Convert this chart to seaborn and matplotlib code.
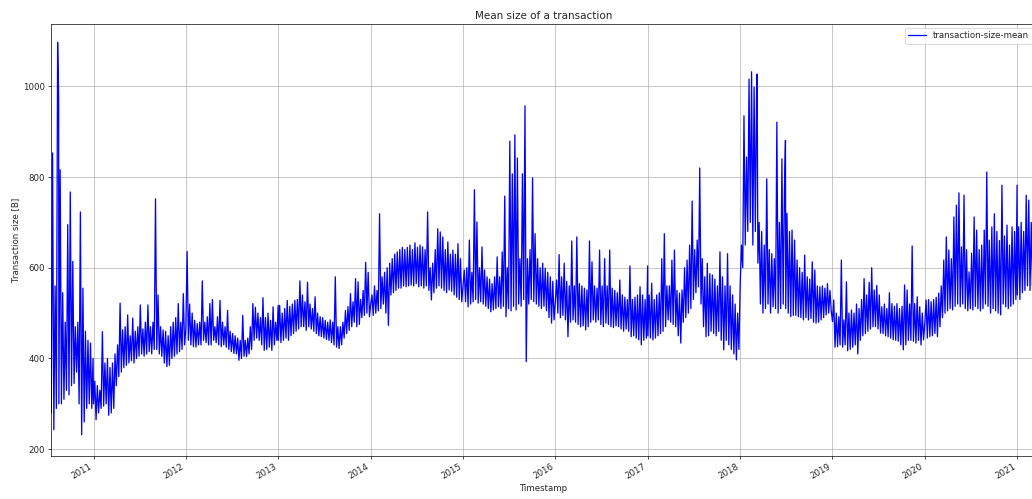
import matplotlib
matplotlib.use("Agg")
import matplotlib.pyplot as plt
import matplotlib.dates as mdates
import numpy as np
import pandas as pd
import seaborn as sns

# Mean transaction size [B]. For every 10-day window: the window's low (first day)
# and high (fifth day).
lo_2010 = [280, 243, 290, 300, 300, 310, 330, 320, 340, 345, 370, 300, 232, 260, 290, 300, 290]
hi_2010 = [853, 560, 1097, 816, 545, 480, 695, 767, 614, 470, 480, 723, 555, 460, 440, 434, 400]

lo_2011 = [300, 265, 280, 290, 295, 300, 275, 280, 290, 340, 360, 370, 380, 385, 390, 395, 390,
           400, 405, 410, 405, 410, 415, 410, 420, 420, 410, 405, 390, 382, 385, 400, 405, 410,
           415, 420, 430]
hi_2011 = [350, 340, 330, 459, 390, 400, 380, 390, 410, 430, 522, 463, 470, 496, 450, 489, 460,
           470, 518, 465, 480, 518, 470, 480, 752, 540, 470, 463, 460, 450, 470, 480, 490, 521,
           480, 543, 500]

lo_2012 = [430, 440, 430, 426, 425, 430, 430, 440, 435, 430, 430, 440, 435, 430, 426, 430, 425,
           420, 415, 411, 410, 396, 400, 405, 404, 410, 420, 440, 445, 440, 430, 418, 420, 425,
           418, 430, 440]
hi_2012 = [636, 520, 500, 484, 477, 480, 571, 480, 492, 521, 530, 470, 492, 528, 480, 470, 506,
           460, 455, 450, 445, 440, 495, 440, 445, 470, 521, 513, 500, 490, 534, 490, 500, 484,
           514, 480, 517]

lo_2013 = [440, 435, 440, 445, 440, 450, 455, 460, 465, 470, 470, 462, 470, 465, 460, 455, 450,
           448, 445, 442, 440, 435, 430, 425, 422, 430, 445, 455, 462, 470, 480, 470, 475, 490,
           495, 500, 492]
hi_2013 = [517, 500, 510, 528, 515, 520, 528, 530, 571, 540, 525, 568, 520, 510, 536, 500, 492,
           490, 484, 480, 485, 480, 580, 470, 470, 480, 506, 514, 543, 525, 576, 569, 530, 550,
           612, 590, 550]

lo_2014 = [490, 495, 500, 505, 510, 520, 500, 473, 540, 545, 550, 555, 555, 560, 558, 560, 562,
           560, 565, 558, 560, 555, 560, 550, 529, 545, 555, 560, 555, 550, 545, 551, 548, 540,
           535, 530, 525]
hi_2014 = [540, 560, 550, 719, 580, 590, 600, 610, 620, 630, 635, 640, 645, 640, 645, 650, 640,
           655, 645, 650, 646, 640, 723, 600, 610, 640, 686, 679, 668, 640, 657, 630, 639, 630,
           653, 620, 600]

lo_2015 = [520, 525, 514, 520, 525, 530, 522, 525, 520, 515, 510, 503, 507, 510, 514, 510, 515,
           492, 510, 505, 515, 507, 520, 515, 530, 393, 520, 530, 525, 520, 515, 510, 515, 505,
           490, 478, 485]
hi_2015 = [595, 600, 661, 590, 772, 701, 600, 646, 595, 580, 575, 565, 580, 624, 580, 635, 758,
           600, 879, 807, 893, 842, 620, 807, 957, 620, 640, 798, 675, 620, 600, 610, 599, 590,
           580, 570, 573]

lo_2016 = [478, 500, 490, 495, 485, 448, 480, 485, 480, 475, 470, 472, 463, 470, 480, 485, 480,
           485, 475, 470, 478, 475, 470, 468, 472, 470, 465, 460, 465, 460, 448, 450, 445, 441,
           430, 440, 445]
hi_2016 = [573, 629, 580, 610, 570, 560, 659, 560, 668, 565, 560, 555, 551, 659, 613, 560, 555,
           639, 560, 620, 560, 639, 555, 550, 545, 573, 540, 535, 530, 604, 530, 535, 540, 558,
           540, 530, 604]

lo_2017 = [450, 445, 441, 445, 450, 455, 460, 470, 485, 480, 475, 470, 450, 434, 480, 490, 500,
           510, 530, 545, 558, 520, 470, 448, 450, 460, 455, 450, 460, 440, 419, 440, 430, 420,
           410, 397, 420]
hi_2017 = [540, 566, 530, 540, 545, 620, 675, 560, 560, 617, 639, 550, 544, 551, 600, 617, 650,
           747, 640, 661, 820, 620, 580, 610, 587, 584, 575, 560, 635, 580, 560, 631, 560, 540,
           520, 500, 675]

lo_2018 = [450, 600, 650, 680, 700, 650, 680, 610, 520, 500, 510, 520, 500, 514, 510, 500, 510,
           520, 510, 500, 492, 495, 495, 492, 490, 485, 490, 485, 488, 480, 478, 480, 485, 490,
           496, 500, 505]
hi_2018 = [650, 935, 844, 1016, 1032, 998, 995, 700, 680, 650, 796, 640, 631, 620, 921, 700, 840,
           771, 720, 680, 683, 661, 617, 600, 590, 628, 580, 575, 613, 595, 560, 558, 560, 555,
           565, 550, 540]

lo_2019 = [423, 425, 426, 430, 425, 430, 417, 420, 425, 430, 410, 440, 450, 455, 460, 465, 470,
           470, 465, 456, 455, 450, 448, 445, 441, 440, 438, 430, 419, 430, 440, 440, 438, 434,
           440, 430, 441]
hi_2019 = [529, 500, 492, 617, 485, 569, 500, 507, 500, 520, 510, 530, 576, 540, 568, 600, 551,
           561, 540, 514, 520, 510, 545, 521, 515, 521, 510, 515, 562, 551, 520, 648, 521, 536,
           514, 500, 514]

lo_2020 = [441, 445, 448, 450, 455, 448, 470, 490, 500, 505, 510, 507, 515, 520, 514, 520, 510,
           505, 510, 507, 515, 510, 505, 510, 520, 515, 500, 510, 505, 500, 496, 520, 514, 510,
           515, 520, 530]
hi_2020 = [529, 530, 525, 530, 535, 544, 560, 617, 668, 639, 620, 712, 738, 765, 646, 760, 640,
           591, 632, 712, 683, 640, 650, 683, 811, 661, 690, 719, 680, 660, 782, 670, 694, 650,
           690, 680, 782]

lo_2021 = [540, 530, 545, 550, 560, 550, 560, 580]
hi_2021 = [690, 700, 680, 760, 749, 700, 690, 650]

# Single-day extremes that fall between the window samples
spike_dates = ["2010-08-16", "2018-03-09", "2018-06-29"]
spike_values = [978, 1027, 881]

windows = {2010: (lo_2010, hi_2010), 2011: (lo_2011, hi_2011), 2012: (lo_2012, hi_2012),
           2013: (lo_2013, hi_2013), 2014: (lo_2014, hi_2014), 2015: (lo_2015, hi_2015),
           2016: (lo_2016, hi_2016), 2017: (lo_2017, hi_2017), 2018: (lo_2018, hi_2018),
           2019: (lo_2019, hi_2019), 2020: (lo_2020, hi_2020), 2021: (lo_2021, hi_2021)}

frames = []
for year, (lo, hi) in windows.items():
    start = pd.Timestamp("2010-07-18" if year == 2010 else f"{year}-01-01")
    starts = pd.date_range(start, periods=len(lo), freq="10D")
    frames.append(pd.DataFrame({"Timestamp": starts, "transaction-size-mean": lo}))
    frames.append(pd.DataFrame({"Timestamp": starts + pd.Timedelta(days=5),
                                "transaction-size-mean": hi}))
frames.append(pd.DataFrame({"Timestamp": pd.to_datetime(spike_dates),
                            "transaction-size-mean": spike_values}))
df = pd.concat(frames).sort_values("Timestamp").reset_index(drop=True)

sns.set_style("white")
plt.rcParams["font.family"] = ["DejaVu Sans"]

DPI = 62
W, H = 1032, 499
fig = plt.figure(figsize=(W / DPI, H / DPI), dpi=DPI)

# Horizontal scale: one year spans about 92.4 px; the axes start at x = 51.3 px
t0, t1 = df["Timestamp"].min(), df["Timestamp"].max()
span_px = (t1 - t0).days / 365.25 * 92.37
ax = fig.add_axes([51.3 / W, 43 / H, span_px / W, (456 - 23.7) / H])

sns.lineplot(data=df, x="Timestamp", y="transaction-size-mean", ax=ax, color="blue",
             linewidth=1.5, label="transaction-size-mean", errorbar=None)

ax.set_xlim(t0, t1)
ax.set_ylim(185, 1138)
ax.set_yticks([200, 400, 600, 800, 1000])
ax.xaxis.set_major_locator(mdates.YearLocator())
ax.xaxis.set_major_formatter(mdates.DateFormatter("%Y"))
for lab in ax.get_xticklabels():
    lab.set_rotation(30)
    lab.set_ha("right")

ax.grid(True, color="#b0b0b0", linewidth=0.8)
for sp in ax.spines.values():
    sp.set_color("black")
    sp.set_linewidth(0.8)
ax.tick_params(axis="both", which="major", length=3.5, width=0.8, color="black",
               labelsize=10, bottom=True, left=True)

ax.set_title("Mean size of a transaction", fontsize=12)
ax.set_xlabel("Timestamp", fontsize=10)
ax.set_ylabel("Transaction size [B]", fontsize=10)
ax.legend(loc="upper right", fontsize=10)

fig.savefig("out.png", dpi=DPI)
